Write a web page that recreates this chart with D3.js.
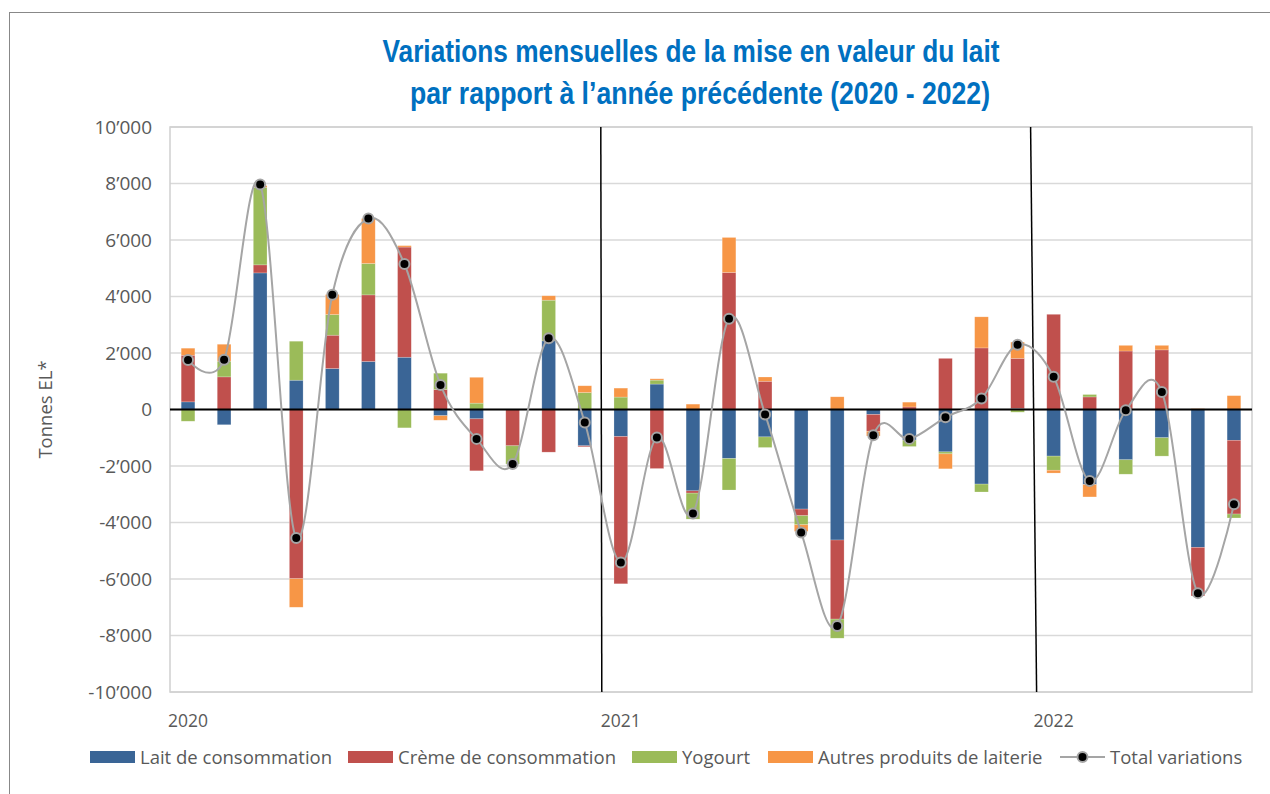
<!DOCTYPE html>
<html>
<head>
<meta charset="utf-8">
<script src="https://cdn.jsdelivr.net/npm/d3@7"></script>
<style>
  body { margin: 0; background: #fff; }
  svg { display: block; }
  .axis text { font-family: "Open Sans", sans-serif; fill: #595959; }
</style>
</head>
<body>
<div id="chart"></div>
<script>
//DATA
const months = [
  "2020-01","2020-02","2020-03","2020-04","2020-05","2020-06","2020-07","2020-08","2020-09","2020-10","2020-11","2020-12",
  "2021-01","2021-02","2021-03","2021-04","2021-05","2021-06","2021-07","2021-08","2021-09","2021-10","2021-11","2021-12",
  "2022-01","2022-02","2022-03","2022-04","2022-05","2022-06"
];
const yearLabels = ["2020","2021","2022"];
const yearStarts = ["2020-01","2021-01","2022-01"];

const lait    = [270,-540,4835,1037,1450,1700,1850,-220,-330,0,2430,-1285,-955,900,-2880,-1735,-970,-3525,-4620,-175,-1085,-1500,-2640,40,-1650,-2655,-1780,-1000,-4880,-1090];
const creme   = [1650,1155,285,-5990,1180,2357,3900,708,-1840,-1285,-1510,-35,-5215,-2090,-80,4850,1000,-235,-2800,-595,90,1810,2180,1770,3370,445,2070,2110,-1720,-2610];
const yogourt = [-415,555,2745,1380,730,1110,-650,577,225,-645,1440,600,440,140,-920,-1115,-375,-320,-675,0,-225,-70,-280,-95,-500,85,-510,-650,0,-140];
const autres  = [250,600,60,-1010,710,1592,50,-160,915,0,155,240,317,47,190,1240,150,-235,450,-170,170,-530,1100,575,-100,-440,200,160,30,490];
const total   = [1755,1760,7965,-4550,4060,6760,5150,870,-1040,-1930,2525,-460,-5415,-990,-3680,3215,-175,-4350,-7660,-915,-1040,-275,390,2290,1160,-2530,-30,620,-6500,-3350];

const yTicks = [-10000,-8000,-6000,-4000,-2000,0,2000,4000,6000,8000,10000];

const seriesNames = ["Lait de consommation","Crème de consommation","Yogourt","Autres produits de laiterie"];
const seriesKeys  = ["lait","creme","yogourt","autres"];
const colors      = ["#3A6596","#C0504D","#9BBB59","#F79646"];

//LAYOUT
const W = 1270, H = 794;
const plot = {left:170, right:1252, top:127, bottom:692};

const svg = d3.select("#chart").append("svg")
  .attr("width", W).attr("height", H);

//outer border
svg.append("rect")
  .attr("x", 9.5).attr("y", 12.5).attr("width", 1400).attr("height", 1000)
  .attr("fill", "none").attr("stroke", "#888").attr("stroke-width", 1);

//title (narrow bold face, squeezed to the reference width)
const title = svg.append("text")
  .attr("text-anchor", "middle")
  .attr("fill", "#0070C0")
  .style("font-family", "'Liberation Sans Narrow','Arial Narrow','Liberation Sans',sans-serif")
  .style("font-weight", "bold")
  .style("font-size", "32px");
title.append("tspan").attr("x", 691).attr("y", 62)
  .attr("textLength", 617).attr("lengthAdjust", "spacingAndGlyphs")
  .text("Variations mensuelles de la mise en valeur du lait");
title.append("tspan").attr("x", 700).attr("y", 104)
  .attr("textLength", 580).attr("lengthAdjust", "spacingAndGlyphs")
  .text("par rapport à l’année précédente (2020 - 2022)");

//scales
const x = d3.scaleBand().domain(months).range([plot.left, plot.right])
  .paddingInner(0.62).paddingOuter(0.31);
const y = d3.scaleLinear().domain([-10000, 10000]).range([plot.bottom, plot.top]);

const fmt = v => d3.format(",")(v).replace(/,/g, "’").replace("−", "-");

//gridlines
svg.append("g").selectAll("line").data(yTicks).join("line")
  .attr("x1", plot.left).attr("x2", plot.right)
  .attr("y1", d => y(d)).attr("y2", d => y(d))
  .attr("stroke", "#D9D9D9").attr("stroke-width", 1.5);

//plot frame
svg.append("rect")
  .attr("x", plot.left).attr("y", plot.top)
  .attr("width", plot.right - plot.left).attr("height", plot.bottom - plot.top)
  .attr("fill", "none").attr("stroke", "#D0D0D0").attr("stroke-width", 1.5);

//y axis
const yAxis = svg.append("g").attr("class", "axis")
  .attr("transform", `translate(${plot.left},0)`)
  .call(d3.axisLeft(y).tickValues(yTicks).tickFormat(fmt).tickSize(0).tickPadding(18));
yAxis.select(".domain").remove();
yAxis.selectAll("text").style("font-size", "19px");

svg.append("text")
  .attr("transform", `translate(52,${y(0)}) rotate(-90)`)
  .attr("text-anchor", "middle")
  .attr("fill", "#595959")
  .style("font-family", "'Open Sans',sans-serif")
  .style("font-size", "18.5px")
  .text("Tonnes EL*");

//x labels
svg.append("g").selectAll("text").data(yearLabels).join("text")
  .attr("x", (d, i) => x(yearStarts[i]) + x.bandwidth() / 2)
  .attr("y", 727)
  .attr("text-anchor", "middle")
  .attr("fill", "#595959")
  .style("font-family", "'Open Sans',sans-serif")
  .style("font-size", "17.5px")
  .text(d => d);

//stacked bars
const table = months.map((m, i) => ({month: m, lait: lait[i], creme: creme[i], yogourt: yogourt[i], autres: autres[i]}));
const stack = d3.stack().keys(seriesKeys).offset(d3.stackOffsetDiverging);
const layers = stack(table);

svg.append("g").selectAll("g").data(layers).join("g")
  .attr("fill", (d, i) => colors[i])
  .selectAll("rect").data(d => d).join("rect")
    .attr("x", d => x(d.data.month))
    .attr("width", x.bandwidth())
    .attr("y", d => y(Math.max(d[0], d[1])))
    .attr("height", d => Math.abs(y(d[0]) - y(d[1])))
    .attr("stroke", "#fff").attr("stroke-opacity", 0.35).attr("stroke-width", 0.6);

//year separators (hand-drawn in the original, the second one leans a little)
const boundary = m => x(m) - x.step() * x.paddingInner() / 2;
const lean = [[-2, -1], [-5, 1]];
svg.append("g").selectAll("line").data(yearStarts.slice(1)).join("line")
  .attr("x1", (d, i) => boundary(d) + lean[i][0]).attr("x2", (d, i) => boundary(d) + lean[i][1])
  .attr("y1", plot.top).attr("y2", plot.bottom)
  .attr("stroke", "#000").attr("stroke-width", 1.5);

//zero line
svg.append("line")
  .attr("x1", plot.left).attr("x2", plot.right)
  .attr("y1", y(0)).attr("y2", y(0))
  .attr("stroke", "#000").attr("stroke-width", 2);

//total line
const cx = (d, i) => x(months[i]) + x.bandwidth() / 2;
const line = d3.line().x(cx).y(d => y(d)).curve(d3.curveCardinal.tension(0));
svg.append("path").datum(total)
  .attr("d", line)
  .attr("fill", "none").attr("stroke", "#A5A5A5").attr("stroke-width", 2);

svg.append("g").selectAll("circle").data(total).join("circle")
  .attr("cx", cx).attr("cy", d => y(d)).attr("r", 5)
  .attr("fill", "#000").attr("stroke", "#A5A5A5").attr("stroke-width", 2);

//legend
const legendX = [90, 348, 632, 768];
const lg = svg.append("g").style("font-family", "'Open Sans',sans-serif").style("font-size", "18.5px");
seriesNames.forEach((name, i) => {
  lg.append("rect").attr("x", legendX[i]).attr("y", 751).attr("width", 45).attr("height", 12).attr("fill", colors[i]);
  lg.append("text").attr("x", legendX[i] + 50).attr("y", 763.5).attr("fill", "#595959").text(name);
});
lg.append("line").attr("x1", 1060).attr("x2", 1105).attr("y1", 757).attr("y2", 757)
  .attr("stroke", "#A5A5A5").attr("stroke-width", 2);
lg.append("circle").attr("cx", 1082.5).attr("cy", 757).attr("r", 5)
  .attr("fill", "#000").attr("stroke", "#A5A5A5").attr("stroke-width", 2);
lg.append("text").attr("x", 1110).attr("y", 763.5).attr("fill", "#595959").text("Total variations");
</script>
</body>
</html>
